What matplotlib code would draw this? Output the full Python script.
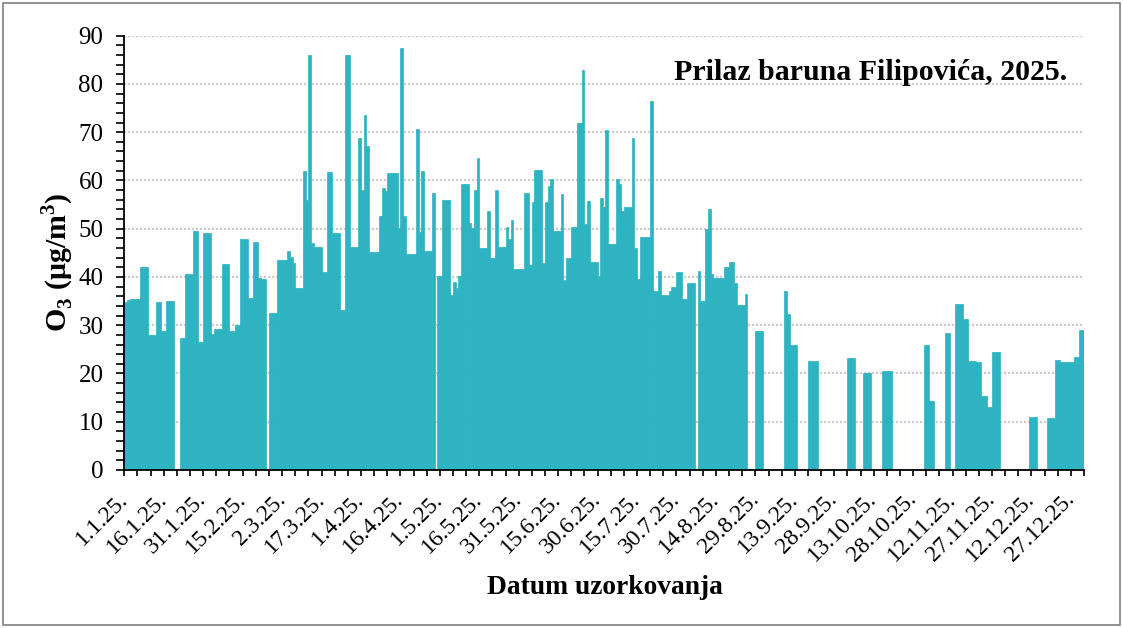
import numpy as np
import matplotlib
matplotlib.use("Agg")
import matplotlib.pyplot as plt
from matplotlib.patches import Rectangle
from matplotlib.ticker import MultipleLocator

nan = np.nan

# dnevne vrijednosti O3 (ug/m3), po mjesecima
jan = [34.8, 35.3, 35.4, 35.4, 35.4, 35.4, 42.0, 42.0, 42.0, 27.9, 27.9, 27.9, 34.8, 34.8, 28.9, 28.9,
       35.1, 35.1, 35.1, nan, nan, 27.3, 27.3, 40.6, 40.6, 40.6, 49.5, 49.5, 26.6, 26.6, 49.1]
feb = [49.1, 49.1, 28.2, 29.3, 29.3, 29.3, 42.6, 42.6, 42.6, 28.9, 28.9, 30.0, 30.0, 47.8, 47.8, 47.8,
       35.6, 35.6, 47.3, 47.3, 39.7, 39.5, 39.5, nan, 32.6, 32.6, 32.6, 43.6]
mar = [43.6, 43.6, 43.6, 45.3, 44.2, 42.8, 37.7, 37.7, 37.7, 62.0, 56.0, 86.0, 47.1, 46.3, 46.3, 46.3,
       41.1, 41.1, 61.8, 61.8, 49.1, 49.1, 49.1, 33.2, 33.2, 86.0, 86.0, 46.3, 46.3, 46.3, 68.8]
apr = [58.0, 73.5, 67.2, 45.1, 45.1, 45.1, 45.1, 52.7, 58.5, 57.8, 61.5, 61.5, 61.5, 61.5, 50.1, 87.4,
       52.7, 44.8, 44.8, 44.8, 44.8, 70.6, 49.4, 61.9, 45.4, 45.4, 45.4, 57.4, nan, 40.1]
may = [40.1, 56.0, 56.0, 56.0, 36.3, 39.0, 37.8, 40.3, 59.2, 59.2, 59.2, 51.1, 50.1, 58.0, 64.6, 46.1,
       46.1, 46.1, 53.6, 44.0, 44.0, 58.0, 46.2, 46.2, 46.2, 50.3, 47.8, 51.8, 41.7, 41.7, 41.7]
jun = [41.7, 57.4, 57.4, 42.4, 55.6, 62.1, 62.1, 62.1, 42.8, 55.6, 58.9, 60.3, 49.6, 49.6, 49.6, 57.2,
       39.3, 44.0, 44.0, 50.3, 50.3, 72.0, 72.0, 82.8, 51.0, 55.8, 43.1, 43.1, 43.1, 40.3]
jul = [56.3, 54.4, 70.4, 46.8, 46.8, 46.8, 60.3, 59.2, 53.6, 54.6, 54.6, 54.6, 68.8, 46.1, 39.5, 48.3,
       48.3, 48.3, 48.3, 76.5, 37.1, 37.1, 41.3, 36.3, 36.3, 36.3, 37.0, 38.0, 38.0, 41.0, 41.0]
aug = [35.4, 35.4, 38.7, 38.7, 38.7, nan, 41.3, 35.0, 35.0, 50.0, 54.0, 40.6, 39.7, 39.7, 39.7, 39.7,
       42.0, 42.0, 43.1, 43.1, 38.8, 34.1, 34.1, 34.1, 36.4, nan, nan, nan, 28.9, 28.9, 28.9]
sep = [nan, nan, nan, nan, nan, nan, nan, nan, 37.0, 32.3, 26.0, 26.0, 26.0, nan, nan, nan,
       nan, 22.5, 22.5, 22.5, 22.5, nan, nan, nan, nan, nan, nan, nan, nan, nan]
oct_ = [nan, nan, 23.3, 23.3, 23.3, nan, nan, nan, 20.0, 20.0, 20.0, nan, nan, nan, nan, 20.6,
        20.6, 20.6, 20.6, nan, nan, nan, nan, nan, nan, nan, nan, nan, nan, nan, nan]
nov = [25.8, 25.8, 14.4, 14.4, nan, nan, nan, nan, 28.3, 28.3, nan, nan, 34.5, 34.5, 34.5, 31.3,
       31.3, 22.6, 22.6, 22.6, 22.3, 22.3, 15.3, 15.3, 13.1, 13.1, 24.5, 24.5, 24.5, nan]
dec = [nan, nan, nan, nan, nan, nan, nan, nan, nan, nan, 11.0, 11.0, 11.0, nan, nan, nan,
       nan, 10.8, 10.8, 10.8, 22.8, 22.8, 22.3, 22.3, 22.3, 22.3, 22.3, 23.5, 23.5, 29.0, 29.0]

tick_labels = ["1.1.25.", "16.1.25.", "31.1.25.", "15.2.25.", "2.3.25.", "17.3.25.", "1.4.25.",
               "16.4.25.", "1.5.25.", "16.5.25.", "31.5.25.", "15.6.25.", "30.6.25.", "15.7.25.",
               "30.7.25.", "14.8.25.", "29.8.25.", "13.9.25.", "28.9.25.", "13.10.25.", "28.10.25.",
               "12.11.25.", "27.11.25.", "12.12.25.", "27.12.25."]

values = np.array(jan + feb + mar + apr + may + jun + jul + aug + sep + oct_ + nov + dec)
days = np.arange(len(values))

plt.rcParams['font.family'] = ['Liberation Serif', 'DejaVu Serif']
plt.rcParams['mathtext.fontset'] = 'custom'
plt.rcParams['mathtext.rm'] = 'Liberation Serif'
plt.rcParams['mathtext.bf'] = 'Liberation Serif:bold'

fig = plt.figure(figsize=(11.23, 6.28), dpi=100)
ax = fig.add_axes([0.1107, 0.2516, 0.8546, 0.6916])

ax.bar(days, np.nan_to_num(values), width=1.0, align='edge', color='#2db3c1',
       edgecolor='#2db3c1', linewidth=0.5)

ax.set_xlim(0, 365)
ax.set_ylim(0, 90)
ax.set_axisbelow(True)
ax.yaxis.grid(True, color='#cdcdcd', linestyle=(0, (1, 0.8)), linewidth=1.6)

ax.yaxis.set_major_locator(MultipleLocator(10))
ax.yaxis.set_minor_locator(MultipleLocator(2))
ax.set_xticks(np.arange(0, 365, 15))
ax.set_xticklabels(tick_labels, rotation=45, ha='right', va='center', rotation_mode='anchor')
ax.xaxis.set_minor_locator(MultipleLocator(5))

ax.tick_params(axis='y', which='both', direction='out', length=6, width=1.2, labelsize=18, pad=9)
ax.tick_params(axis='x', which='both', direction='out', length=4, width=1.2, labelsize=17, pad=15)

for s in ['top', 'right']:
    ax.spines[s].set_visible(False)
for s in ['left', 'bottom']:
    ax.spines[s].set_linewidth(1.3)

ax.text(0.982, 0.915, "Prilaz baruna Filipovića, 2025.", transform=ax.transAxes,
        ha='right', va='center', fontsize=21.5, fontweight='bold')

fig.text(57.5 / 1123, 1 - 262 / 628, r"O$_\mathbf{3}$ (μg/m$^\mathbf{3}$)", rotation=90,
         ha='center', va='center', fontsize=21.5, fontweight='bold')
fig.text(605 / 1123, 1 - 587 / 628, "Datum uzorkovanja", ha='center', va='center',
         fontsize=19.8, fontweight='bold')

fig.patches.append(Rectangle((0.003, 0.005), 0.994, 0.99, transform=fig.transFigure,
                             fill=False, edgecolor='#7f7f7f', linewidth=1.2))

fig.savefig("out.png", dpi=100)
